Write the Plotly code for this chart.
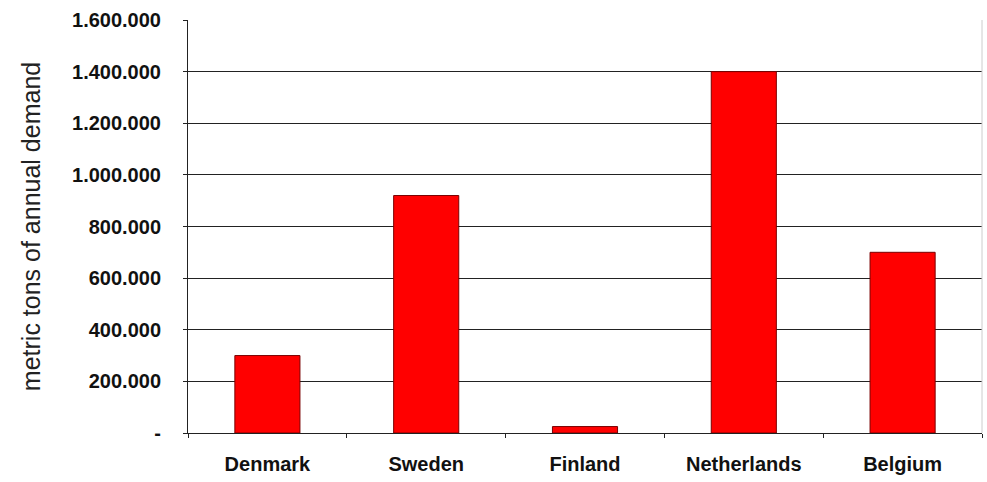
import plotly.graph_objects as go

countries = ["Denmark", "Sweden", "Finland", "Netherlands", "Belgium"]
demand = [300000, 920000, 25000, 1400000, 700000]
tick_values = [0, 200000, 400000, 600000, 800000, 1000000, 1200000, 1400000, 1600000]
tick_labels = ["-", "200.000", "400.000", "600.000", "800.000", "1.000.000",
               "1.200.000", "1.400.000", "1.600.000"]

FONT = "Arial, Liberation Sans, sans-serif"

fig = go.Figure()
fig.add_trace(go.Bar(
    x=countries, y=demand,
    marker=dict(color="#ff0000", line=dict(color="#7a0000", width=1)),
    width=0.41,
))

fig.update_layout(
    width=987, height=482,
    margin=dict(l=188, r=5, t=20, b=49),
    paper_bgcolor="white", plot_bgcolor="white",
    font=dict(family=FONT, size=20, color="#111"),
    showlegend=False,
)
fig.update_xaxes(
    showline=True, linecolor="#222", linewidth=1,
    ticks="outside", tickson="boundaries", ticklen=4, tickcolor="#222",
    showgrid=False, tickfont=dict(family=FONT, size=20, color="#111", weight="bold"),
    ticklabelstandoff=13,
)
fig.update_yaxes(
    range=[0, 1600000], tickvals=tick_values, ticktext=tick_labels,
    showline=True, linecolor="#222", linewidth=1,
    ticks="outside", ticklen=4, tickcolor="#222",
    showgrid=True, gridcolor="#222", gridwidth=1,
    title=dict(text="metric tons of annual demand",
               font=dict(family=FONT, size=25, color="#222"), standoff=24),
    tickfont=dict(family=FONT, size=20, color="#111", weight="bold"),
    ticklabelstandoff=18,
    zeroline=False,
)
fig.add_shape(type="line", xref="paper", yref="paper", x0=1, x1=1, y0=0, y1=1,
              line=dict(color="#cccccc", width=1))

fig.write_html("out.html")
